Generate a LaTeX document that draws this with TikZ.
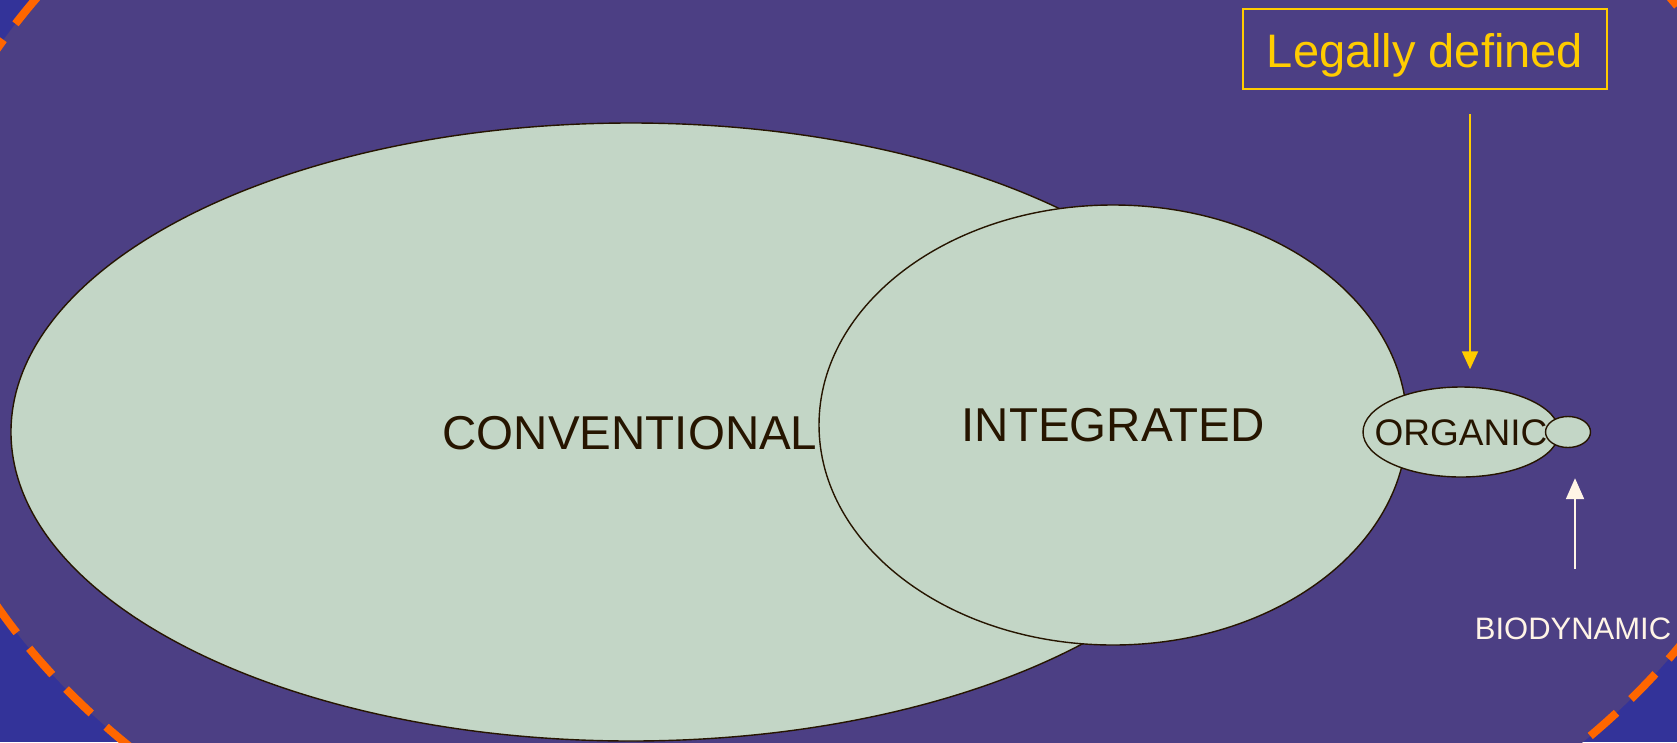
\documentclass[tikz,border=0pt]{standalone}
\usepackage{fontspec}
\setmainfont{Liberation Sans}
\usetikzlibrary{shapes.geometric,arrows.meta}
\definecolor{deepblue}{HTML}{333399}
\definecolor{slatepurple}{HTML}{4C3F84}
\definecolor{sage}{HTML}{C3D6C6}
\definecolor{inkbrown}{HTML}{261500}
\definecolor{gold}{HTML}{FFCC00}
\definecolor{dashorange}{HTML}{FF6600}
\definecolor{cream}{HTML}{FFF4E6}
\tikzset{
  farm/.style={ellipse, draw=inkbrown, line width=1.4pt, fill=sage, inner sep=0pt},
  farmlabel/.style={text=inkbrown, inner sep=0pt},
  goldarrow/.style={draw=gold, line width=2pt, -{Triangle[width=16pt,length=18pt]}},
  creamarrow/.style={draw=cream, line width=2pt, -{Triangle[width=18pt,length=21pt]}},
}
\begin{document}
\begin{tikzpicture}[x=1pt,y=-1pt]
  % page and outer field
  \useasboundingbox (0,0) rectangle (1677,742);
  \fill[deepblue] (0,0) rectangle (1677,742);
  \begin{scope}
    \clip (0,0) rectangle (1677,742);
    \fill[slatepurple] (853.5,327.5) ellipse [x radius=948, y radius=649];
    \draw[dashorange, line width=8pt, dash pattern=on 35pt off 20pt]
      (853.5,327.5) ellipse [x radius=948, y radius=649];
  \end{scope}

  % farming systems
  \node[farm, minimum width=1240pt, minimum height=618pt] (conv) at (631,432) {};
  \node[farmlabel, font=\fontsize{47.5}{50}\selectfont] (convtext) at (630,433) {CONVENTIONAL};
  \node[farm, minimum width=588pt, minimum height=440pt, font=\fontsize{47.5}{50}\selectfont, text=inkbrown] (integ) at (1113,425) {INTEGRATED};
  \node[farm, minimum width=196pt, minimum height=90pt] (org) at (1461,432) {};
  \node[farm, minimum width=45pt, minimum height=31pt] (bio) at (1568,432) {};
  \node[farmlabel, font=\fontsize{37}{40}\selectfont] (orgtext) at (1461,433) {ORGANIC};

  % legal definition
  \node[draw=gold, line width=1.6pt, text=gold, minimum width=364pt, minimum height=80pt,
        inner sep=0pt, text height=36pt, text depth=0pt,
        font=\fontsize{47}{50}\selectfont] (legal) at (1425,49) {Legally defined};
  \coordinate (legalfoot) at (1470,114);
  \draw[goldarrow, shorten >=17pt] (legalfoot) -- (legalfoot |- org.north);

  % biodynamic
  \node[text=cream, inner sep=0pt, font=\fontsize{31}{34}\selectfont] (biotext) at (1573,629) {BIODYNAMIC};
  \coordinate (biofoot) at (1575,569);
  \draw[creamarrow, shorten >=30pt] (biofoot) -- (biofoot |- bio.south);
\end{tikzpicture}
\end{document}
